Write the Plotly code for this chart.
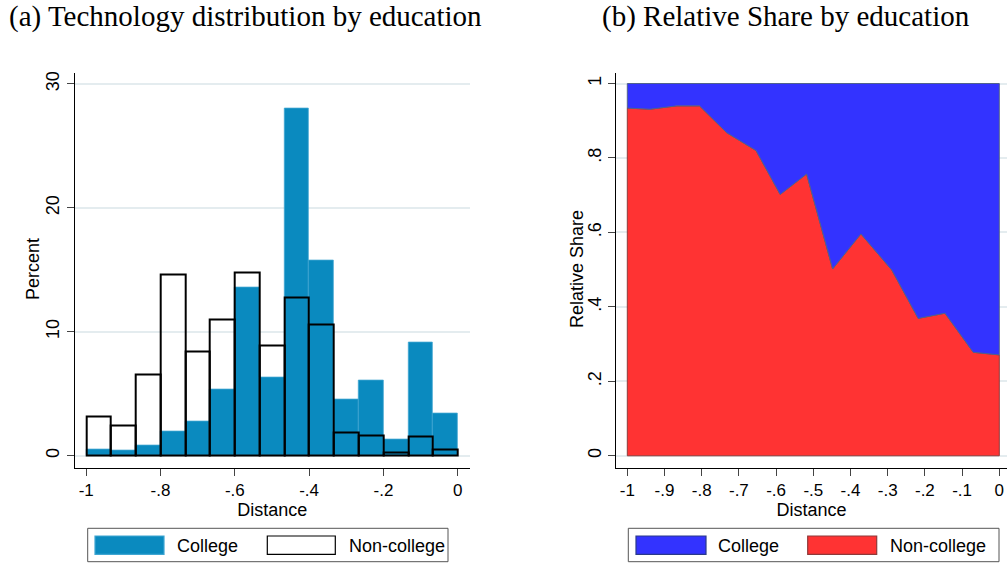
import plotly.graph_objects as go
from plotly.subplots import make_subplots

W, H = 1007, 566

# ---- Panel (a): histogram of distance, 15 equal bins on [-1, 0] ----
bin_left = [-1.0, -0.9333, -0.8667, -0.8, -0.7333, -0.6667, -0.6, -0.5333,
            -0.4667, -0.4, -0.3333, -0.2667, -0.2, -0.1333, -0.0667]
bin_width = 1 / 15
college_pct = [0.46, 0.38, 0.86, 1.94, 2.77, 5.35, 13.6, 6.29,
               28.0, 15.76, 4.52, 6.10, 1.32, 9.14, 3.44]
noncollege_pct = [3.15, 2.47, 6.53, 14.6, 8.44, 11.0, 14.8, 8.87,
                  12.77, 10.59, 1.85, 1.61, 0.27, 1.53, 0.48]

# ---- Panel (b): relative share of non-college by distance ----
share_x = [-1.0, -0.939, -0.867, -0.806, -0.733, -0.654, -0.589, -0.518,
           -0.448, -0.372, -0.289, -0.218, -0.146, -0.070, 0.0]
noncollege_share = [0.934, 0.931, 0.940, 0.940, 0.868, 0.820, 0.702, 0.757,
                    0.502, 0.596, 0.499, 0.369, 0.383, 0.278, 0.271]

a_xticks = [-1, -0.8, -0.6, -0.4, -0.2, 0]
a_xtext = ["-1", "-.8", "-.6", "-.4", "-.2", "0"]
a_yticks = [0, 10, 20, 30]
a_ytext = ["0", "10", "20", "30"]
b_xticks = [-1, -0.9, -0.8, -0.7, -0.6, -0.5, -0.4, -0.3, -0.2, -0.1, 0]
b_xtext = ["-1", "-.9", "-.8", "-.7", "-.6", "-.5", "-.4", "-.3", "-.2", "-.1", "0"]
b_yticks = [0, 0.2, 0.4, 0.6, 0.8, 1]
b_ytext = ["0", ".2", ".4", ".6", ".8", "1"]

BLUE_BAR = "#0A8ABF"
AREA_BLUE = "#3333FF"
AREA_RED = "#FF3333"
GRID = "#E4ECEF"
SANS = "Liberation Sans, Arial, sans-serif"
SERIF = "Liberation Serif, Times New Roman, serif"


def xp(px):
    return px / W


def yp(py):
    return 1 - py / H


fig = make_subplots(rows=1, cols=2)

bin_mid = [b + bin_width / 2 for b in bin_left]

fig.add_trace(go.Bar(
    x=bin_mid, y=college_pct, width=bin_width, name="College",
    marker=dict(color=BLUE_BAR, line=dict(color="#3FA6D2", width=0.8)),
    showlegend=False), row=1, col=1)
fig.add_trace(go.Bar(
    x=bin_mid, y=noncollege_pct, width=bin_width, name="Non-college",
    marker=dict(color="rgba(0,0,0,0)", line=dict(color="black", width=2)),
    showlegend=False), row=1, col=1)

# non-college area: polygon from the baseline up to the share curve
red_x = [share_x[0]] + share_x + [share_x[-1], share_x[0]]
red_y = [0] + noncollege_share + [0, 0]
fig.add_trace(go.Scatter(
    x=red_x, y=red_y, mode="lines", fill="toself", fillcolor=AREA_RED,
    line=dict(color="#8E3A3A", width=1), name="Non-college",
    showlegend=False, hoverinfo="skip"), row=1, col=2)
# college area: from the share curve up to 1
blue_x = share_x + [share_x[-1], share_x[0], share_x[0]]
blue_y = noncollege_share + [1, 1, noncollege_share[0]]
fig.add_trace(go.Scatter(
    x=blue_x, y=blue_y, mode="lines", fill="toself", fillcolor=AREA_BLUE,
    line=dict(color="#51628C", width=1), name="College",
    showlegend=False, hoverinfo="skip"), row=1, col=2)

axis_common = dict(
    showline=True, linecolor="black", linewidth=1.3,
    ticks="outside", ticklen=7, tickwidth=1.2, tickcolor="#444",
    zeroline=False,
)
xfont = dict(family=SANS, size=17, color="black")
yfont = dict(family=SANS, size=18, color="black")

dom_y = [yp(467.7), yp(72.5)]

fig.update_xaxes(
    domain=[xp(74.7), xp(470)], range=[-1.031, 0.033],
    tickvals=a_xticks, ticktext=a_xtext, showgrid=False, tickfont=xfont,
    title=dict(text="Distance", font=dict(family=SANS, size=18, color="black"),
               standoff=1),
    **axis_common, row=1, col=1)
fig.update_yaxes(
    domain=dom_y, range=[-0.97, 30.92],
    tickvals=a_yticks, ticktext=a_ytext, tickangle=-90, tickfont=yfont,
    showgrid=True, gridcolor=GRID, gridwidth=1.5,
    **axis_common, row=1, col=1)
fig.update_xaxes(
    domain=[xp(616), 1.0], range=[-1.0304, 0.0207],
    tickvals=b_xticks, ticktext=b_xtext, showgrid=False, tickfont=xfont,
    title=dict(text="Distance", font=dict(family=SANS, size=18, color="black"),
               standoff=1),
    **axis_common, row=1, col=2)
fig.update_yaxes(
    domain=dom_y, range=[-0.032, 1.0296],
    tickvals=b_yticks, ticktext=b_ytext, tickangle=-90, tickfont=yfont,
    showgrid=True, gridcolor=GRID, gridwidth=1.5,
    **axis_common, row=1, col=2)

annotations = [
    dict(text="(a) Technology distribution by education", x=xp(245), y=yp(17),
         xref="paper", yref="paper", showarrow=False, xanchor="center",
         yanchor="middle", font=dict(family=SERIF, size=29, color="black")),
    dict(text="(b) Relative Share by education", x=xp(786), y=yp(17),
         xref="paper", yref="paper", showarrow=False, xanchor="center",
         yanchor="middle", font=dict(family=SERIF, size=29, color="black")),
    dict(text="Percent", x=xp(33), y=yp(269), xref="paper", yref="paper",
         showarrow=False, textangle=-90, xanchor="center", yanchor="middle",
         font=dict(family=SANS, size=18, color="black")),
    dict(text="Relative Share", x=xp(577), y=yp(269), xref="paper", yref="paper",
         showarrow=False, textangle=-90, xanchor="center", yanchor="middle",
         font=dict(family=SANS, size=18, color="black")),
]
shapes = []


def legend_box(x0, x1, items):
    shapes.append(dict(type="rect", xref="paper", yref="paper",
                       x0=xp(x0), x1=xp(x1), y0=yp(561.7), y1=yp(528.3),
                       line=dict(color="#555", width=1), fillcolor="white"))
    for sx0, sx1, fill, edge, tx, label in items:
        shapes.append(dict(type="rect", xref="paper", yref="paper",
                           x0=xp(sx0), x1=xp(sx1), y0=yp(554.3), y1=yp(536),
                           line=dict(color=edge, width=1.2), fillcolor=fill))
        annotations.append(dict(text=label, x=xp(tx), y=yp(545.5), xref="paper",
                                yref="paper", showarrow=False, xanchor="left",
                                yanchor="middle",
                                font=dict(family=SANS, size=18, color="black")))


legend_box(87.7, 448, [
    (95, 164, BLUE_BAR, "#3FA6D2", 175, "College"),
    (267.3, 335.3, "white", "black", 347, "Non-college"),
])
legend_box(628.3, 999, [
    (636, 706, AREA_BLUE, "#2A3A8A", 716, "College"),
    (807.7, 876.7, AREA_RED, "#8E3A3A", 888, "Non-college"),
])

fig.update_layout(
    width=W, height=H, margin=dict(l=0, r=0, t=0, b=0),
    paper_bgcolor="white", plot_bgcolor="white",
    barmode="overlay", bargap=0,
    annotations=annotations, shapes=shapes,
)

fig.write_html("out.html")
